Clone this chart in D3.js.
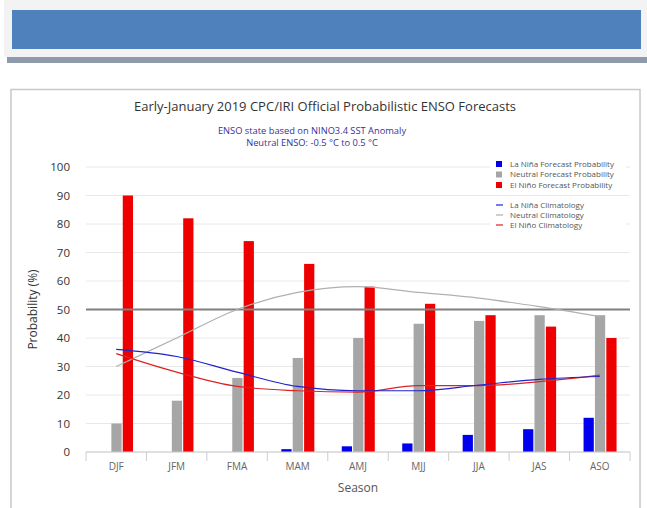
<!DOCTYPE html>
<html lang="en">
<head>
    <meta charset="UTF-8">
    <title>ENSO Forecasts</title>
    <script src="https://d3js.org/d3.v7.min.js"></script>
    <style>
        body {
            margin: 0;
            background-color: white;
        }
        svg text {
            font-family: "Open Sans", "DejaVu Sans", sans-serif;
        }
    </style>
</head>
<body>
    <svg id="chart" width="647" height="508"></svg>
    <script>
        // seasons and forecast probabilities (%)
        const seasons = ["DJF", "JFM", "FMA", "MAM", "AMJ", "MJJ", "JJA", "JAS", "ASO"];
        const laNina = [0, 0, 0, 1, 2, 3, 6, 8, 12];
        const neutral = [10, 18, 26, 33, 40, 45, 46, 48, 48];
        const elNino = [90, 82, 74, 66, 58, 52, 48, 44, 40];

        // climatology curves
        const laNinaClim = [36, 33.5, 28, 23, 21.5, 21.5, 23.5, 25.5, 26.5];
        const neutralClim = [30, 40, 50, 56, 58, 56, 54, 51, 47.5];
        const elNinoClim = [34.5, 28, 23, 21.5, 21, 23.3, 23.3, 24.7, 27];

        const yTicks = [0, 10, 20, 30, 40, 50, 60, 70, 80, 90, 100];

        const svg = d3.select("#chart");

        // page header
        svg.append("rect").attr("x", 4).attr("y", 0).attr("width", 643).attr("height", 57).attr("fill", "#f3f3f3");
        svg.append("rect").attr("x", 12).attr("y", 10).attr("width", 629).attr("height", 39).attr("fill", "#4f81bd");
        svg.append("rect").attr("x", 7).attr("y", 57).attr("width", 640).attr("height", 6).attr("fill", "#8f9bab");

        // chart panel
        svg.append("rect").attr("x", 11).attr("y", 89.5).attr("width", 629).attr("height", 430)
            .attr("fill", "white").attr("stroke", "#c8c8c8").attr("stroke-width", 1.5);

        svg.append("text").attr("x", 325).attr("y", 111).attr("text-anchor", "middle")
            .attr("font-size", 13).attr("fill", "#333").text("Early-January 2019 CPC/IRI Official Probabilistic ENSO Forecasts");
        svg.append("text").attr("x", 312).attr("y", 133.5).attr("text-anchor", "middle")
            .attr("font-size", 9.3).attr("fill", "#333399").text("ENSO state based on NINO3.4 SST Anomaly");
        svg.append("text").attr("x", 312).attr("y", 146).attr("text-anchor", "middle")
            .attr("font-size", 9.3).attr("fill", "#333399").text("Neutral ENSO: -0.5 °C to 0.5 °C");

        const x = d3.scaleBand().domain(seasons).range([86, 630]);
        const y = d3.scaleLinear().domain([0, 100]).range([452, 167]);
        const sub = d3.scaleBand().domain(["n", "u", "e"]).range([14, 47]).paddingInner(0.1);

        // gridlines
        svg.append("g").selectAll("line").data(yTicks).join("line")
            .attr("x1", 86).attr("x2", 630)
            .attr("y1", d => y(d)).attr("y2", d => y(d))
            .attr("stroke", "#e8e8e8").attr("stroke-width", 1);

        // y axis labels
        svg.append("g").selectAll("text").data(yTicks).join("text")
            .attr("x", 70).attr("y", d => y(d) + 4)
            .attr("text-anchor", "end").attr("font-size", 11.5).attr("fill", "#333")
            .text(d => d);

        svg.append("text")
            .attr("transform", "translate(37," + y(50) + ") rotate(-90)")
            .attr("text-anchor", "middle").attr("font-size", 12).attr("fill", "#333")
            .text("Probability (%)");

        // bars
        const series = [
            { key: "n", values: laNina, color: "#0000ee" },
            { key: "u", values: neutral, color: "#a6a6a6" },
            { key: "e", values: elNino, color: "#ee0000" }
        ];
        series.forEach(s => {
            svg.append("g").selectAll("rect").data(seasons).join("rect")
                .attr("x", d => x(d) + sub(s.key))
                .attr("width", sub.bandwidth())
                .attr("y", (d, i) => y(s.values[i]))
                .attr("height", (d, i) => y(0) - y(s.values[i]))
                .attr("fill", s.color);
        });

        // 50% reference line
        svg.append("line").attr("x1", 86).attr("x2", 630).attr("y1", y(50)).attr("y2", y(50))
            .attr("stroke", "#808080").attr("stroke-width", 2);

        // climatology curves
        const line = d3.line()
            .x((d, i) => x(seasons[i]) + x.bandwidth() / 2)
            .y(d => y(d))
            .curve(d3.curveMonotoneX);
        [
            { values: neutralClim, color: "#b0b0b0" },
            { values: elNinoClim, color: "#dd2222" },
            { values: laNinaClim, color: "#2222cc" }
        ].forEach(c => {
            svg.append("path").attr("d", line(c.values))
                .attr("fill", "none").attr("stroke", c.color).attr("stroke-width", 1.2);
        });

        // x axis
        const xAxis = svg.append("g");
        xAxis.append("line").attr("x1", 86).attr("x2", 630).attr("y1", 452).attr("y2", 452)
            .attr("stroke", "#ccc");
        xAxis.selectAll("line.tick").data(seasons.concat(["end"])).join("line")
            .attr("class", "tick")
            .attr("x1", (d, i) => 86 + i * x.step()).attr("x2", (d, i) => 86 + i * x.step())
            .attr("y1", 452).attr("y2", 461).attr("stroke", "#ccc");
        xAxis.selectAll("text").data(seasons).join("text")
            .attr("x", d => x(d) + x.bandwidth() / 2).attr("y", 470)
            .attr("text-anchor", "middle").attr("font-size", 10).attr("fill", "#666")
            .text(d => d);
        svg.append("text").attr("x", 358).attr("y", 492).attr("text-anchor", "middle")
            .attr("font-size", 12).attr("fill", "#555").text("Season");

        // legend
        const legendBars = [
            { label: "La Niña Forecast Probability", color: "#0000ee" },
            { label: "Neutral Forecast Probability", color: "#a6a6a6" },
            { label: "El Niño Forecast Probability", color: "#ee0000" }
        ];
        const legendLines = [
            { label: "La Niña Climatology", color: "#2222cc" },
            { label: "Neutral Climatology", color: "#b0b0b0" },
            { label: "El Niño Climatology", color: "#dd2222" }
        ];
        svg.append("rect").attr("x", 490).attr("y", 158).attr("width", 136).attr("height", 32).attr("fill", "white");
        svg.append("rect").attr("x", 490).attr("y", 200).attr("width", 136).attr("height", 31).attr("fill", "white");
        legendBars.forEach((d, i) => {
            svg.append("rect").attr("x", 496).attr("y", 161 + i * 10.5).attr("width", 6).attr("height", 6).attr("fill", d.color);
            svg.append("text").attr("x", 510).attr("y", 166.5 + i * 10.5).attr("font-size", 8).attr("fill", "#555").text(d.label);
        });
        legendLines.forEach((d, i) => {
            svg.append("line").attr("x1", 496).attr("x2", 503).attr("y1", 205 + i * 10).attr("y2", 205 + i * 10)
                .attr("stroke", d.color).attr("stroke-width", 1.2);
            svg.append("text").attr("x", 510).attr("y", 207.5 + i * 10).attr("font-size", 8).attr("fill", "#555").text(d.label);
        });
    </script>
</body>
</html>
